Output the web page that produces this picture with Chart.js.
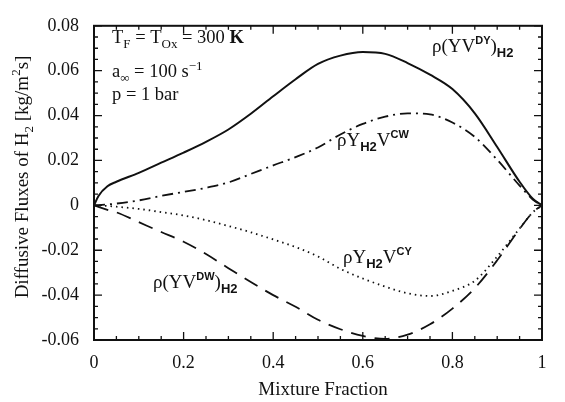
<!DOCTYPE html>
<html>
<head>
<meta charset="utf-8">
<script src="https://cdn.jsdelivr.net/npm/chart.js@4/dist/chart.umd.min.js"></script>
<style>
  html, body { margin: 0; padding: 0; background: #fff; }
  #wrap { width: 565px; height: 402px; }
</style>
</head>
<body>
<div id="wrap"><canvas id="chart" width="565" height="402"></canvas></div>
<script>
// mixture fraction grid and the four H2 flux curves
const mixture = [0, 0.01, 0.03, 0.05, 0.1, 0.15, 0.2, 0.25, 0.3, 0.35, 0.4, 0.45, 0.5, 0.55, 0.6, 0.65, 0.7, 0.75, 0.8, 0.85, 0.9, 0.95, 0.98, 1];
const fluxDY = [0, 0.0042, 0.0085, 0.0105, 0.0145, 0.0190, 0.0235, 0.0283, 0.0338, 0.0408, 0.0486, 0.0562, 0.063, 0.0667, 0.0683, 0.0675, 0.0634, 0.0582, 0.0518, 0.041, 0.026, 0.0105, 0.0028, 0];
const fluxCW = [0, 0.0001, 0.0004, 0.0008, 0.0022, 0.0042, 0.006, 0.0078, 0.0102, 0.014, 0.0178, 0.0215, 0.0258, 0.0316, 0.0363, 0.0395, 0.041, 0.0405, 0.0369, 0.0305, 0.0203, 0.0088, 0.0025, 0];
const fluxCY = [0, -0.0001, -0.0003, -0.0006, -0.0016, -0.003, -0.0045, -0.0066, -0.0092, -0.012, -0.0152, -0.0186, -0.0228, -0.0283, -0.0326, -0.0362, -0.0392, -0.0404, -0.0381, -0.0336, -0.0228, -0.0103, -0.003, 0];
const fluxDW = [0, -0.0007, -0.002, -0.0031, -0.0075, -0.0119, -0.0162, -0.0217, -0.028, -0.0342, -0.04, -0.0452, -0.051, -0.0552, -0.0582, -0.0595, -0.0576, -0.053, -0.046, -0.0369, -0.0245, -0.0105, -0.003, 0];

// axis ticks
const xTicks = [0, 0.2, 0.4, 0.6, 0.8, 1];
const yTicks = [-0.06, -0.04, -0.02, 0, 0.02, 0.04, 0.06, 0.08];

const SERIF = '"Liberation Serif", "Times New Roman", serif';
const SANS = '"Liberation Sans", Arial, sans-serif';
const INK = '#111';

const pts = ys => mixture.map((x, i) => ({ x: x, y: ys[i] }));

// draw text made of normal / sub / sup pieces
function drawRich(ctx, x, y, parts, size) {
  let cx = x;
  parts.forEach(p => {
    const [txt, mode] = p;
    let dy = 0;
    if (mode === 'sub') { ctx.font = 'bold ' + Math.round(size * 0.66) + 'px ' + SANS; dy = size * 0.28; }
    else if (mode === 'sup') { ctx.font = 'bold ' + Math.round(size * 0.6) + 'px ' + SANS; dy = -size * 0.42; }
    else if (mode === 'ssub') { ctx.font = Math.round(size * 0.7) + 'px ' + SERIF; dy = size * 0.25; }
    else if (mode === 'ssup') { ctx.font = Math.round(size * 0.7) + 'px ' + SERIF; dy = -size * 0.4; }
    else if (mode === 'b') { ctx.font = 'bold ' + size + 'px ' + SERIF; }
    else { ctx.font = size + 'px ' + SERIF; }
    ctx.fillText(txt, cx, y + dy);
    cx += ctx.measureText(txt).width;
  });
  return cx - x;
}

function richWidth(ctx, parts, size) {
  ctx.save();
  ctx.globalAlpha = 0;
  const w = drawRich(ctx, 0, 0, parts, size);
  ctx.restore();
  return w;
}

const decorations = {
  id: 'decorations',
  afterDraw(chart) {
    const ctx = chart.ctx;
    const a = chart.chartArea;
    const xs = chart.scales.x, ys = chart.scales.y;
    ctx.save();
    ctx.strokeStyle = INK;
    ctx.fillStyle = INK;

    // frame
    ctx.lineWidth = 2;
    ctx.strokeRect(a.left, a.top, a.right - a.left, a.bottom - a.top);

    // inward ticks on all four sides
    ctx.lineWidth = 1.3;
    ctx.beginPath();
    for (let i = 0; i <= 20; i++) {
      const v = i * 0.05;
      const px = xs.getPixelForValue(v);
      const len = i % 4 === 0 ? 8 : 4;
      ctx.moveTo(px, a.bottom); ctx.lineTo(px, a.bottom - len);
      ctx.moveTo(px, a.top); ctx.lineTo(px, a.top + len);
    }
    for (let i = 0; i <= 28; i++) {
      const v = -0.06 + i * 0.005;
      const py = ys.getPixelForValue(v);
      const len = i % 4 === 0 ? 8 : 4;
      ctx.moveTo(a.left, py); ctx.lineTo(a.left + len, py);
      ctx.moveTo(a.right, py); ctx.lineTo(a.right - len, py);
    }
    ctx.stroke();

    ctx.textAlign = 'left';
    ctx.textBaseline = 'alphabetic';

    // axis titles
    ctx.font = '19px ' + SERIF;
    ctx.textAlign = 'center';
    ctx.fillText('Mixture Fraction', 323, 395);
    ctx.textAlign = 'left';

    const yTitle = [['Diffusive Fluxes of H', ''], ['2', 'ssub'], [' [kg/m', ''], ['2', 'ssup'], ['s]', '']];
    const wy = richWidth(ctx, yTitle, 19);
    ctx.save();
    ctx.translate(28, 177);
    ctx.rotate(-Math.PI / 2);
    drawRich(ctx, -wy / 2, 0, yTitle, 19);
    ctx.restore();

    // condition notes
    drawRich(ctx, 112, 43, [['T', ''], ['F', 'ssub'], [' = T', ''], ['Ox', 'ssub'], [' = 300 ', ''], ['K', 'b']], 18.5);
    drawRich(ctx, 112, 77, [['a', ''], ['\u221e', 'ssub'], [' = 100 s', ''], ['\u22121', 'ssup']], 18.5);
    drawRich(ctx, 112, 100, [['p = 1 bar', '']], 18.5);

    // curve labels
    drawRich(ctx, 432, 52, [['\u03c1(YV', ''], ['DY', 'sup'], [')', ''], ['H2', 'sub']], 19);
    drawRich(ctx, 337, 146, [['\u03c1Y', ''], ['H2', 'sub'], ['V', ''], ['CW', 'sup']], 19);
    drawRich(ctx, 343, 263, [['\u03c1Y', ''], ['H2', 'sub'], ['V', ''], ['CY', 'sup']], 19);
    drawRich(ctx, 153, 288, [['\u03c1(YV', ''], ['DW', 'sup'], [')', ''], ['H2', 'sub']], 19);

    ctx.restore();
  }
};

const line = (data, dash, width) => ({
  data: pts(data),
  borderColor: INK,
  borderWidth: width,
  borderDash: dash,
  pointRadius: 0,
  fill: false,
  cubicInterpolationMode: 'monotone'
});

new Chart(document.getElementById('chart'), {
  type: 'line',
  data: {
    datasets: [
      line(fluxDY, [], 2),
      line(fluxCW, [11, 5, 2, 5], 1.8),
      line(fluxCY, [1.5, 4], 1.8),
      line(fluxDW, [15, 9], 1.8)
    ]
  },
  options: {
    responsive: false,
    animation: false,
    layout: { padding: { top: 10, right: 23, left: 0, bottom: 0 } },
    plugins: { legend: { display: false }, tooltip: { enabled: false } },
    scales: {
      x: {
        type: 'linear',
        min: 0, max: 1,
        afterBuildTicks: s => { s.ticks = xTicks.map(v => ({ value: v })); },
        afterFit: s => { s.height = 62; },
        grid: { display: false, drawTicks: false },
        border: { display: false },
        ticks: {
          padding: 12,
          color: INK,
          font: { family: SERIF, size: 18 },
          callback: v => String(Math.round(v * 10) / 10)
        }
      },
      y: {
        min: -0.06, max: 0.08,
        afterBuildTicks: s => { s.ticks = yTicks.map(v => ({ value: v })); },
        afterFit: s => { s.width = 94; },
        grid: { display: false, drawTicks: false },
        border: { display: false },
        ticks: {
          padding: 15,
          color: INK,
          font: { family: SERIF, size: 18 },
          callback: v => Math.abs(v) < 1e-9 ? '0' : v.toFixed(2)
        }
      }
    }
  },
  plugins: [decorations]
});
</script>
</body>
</html>
